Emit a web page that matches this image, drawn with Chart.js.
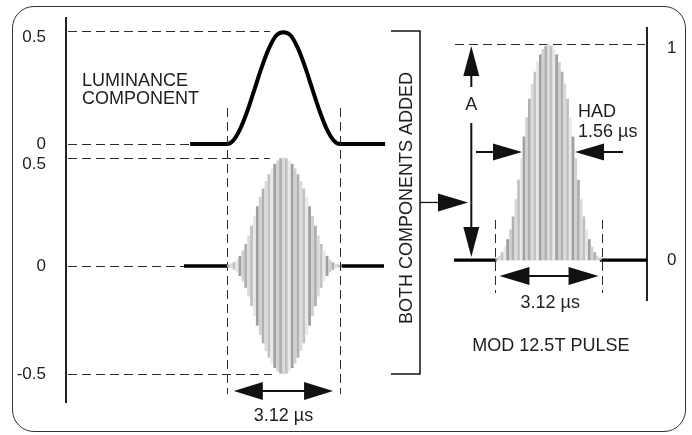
<!DOCTYPE html>
<html>
<head>
<meta charset="utf-8">
<script src="https://cdn.jsdelivr.net/npm/chart.js@4.4.1/dist/chart.umd.min.js"></script>
<style>
  html, body { margin: 0; padding: 0; background: #fff; }
  #wrap { position: relative; width: 692px; height: 435px; overflow: hidden; }
  #wrap canvas { position: absolute; left: 0; top: 0; }
  #frame { position: absolute; left: 12px; top: 6px; width: 672px; height: 424px;
           border: 1.5px solid #333; border-radius: 22px; }
</style>
</head>
<body>
<div id="wrap">
  <div id="frame"></div>
  <canvas id="lumChart" width="692" height="435"></canvas>
  <canvas id="chromaChart" width="692" height="435"></canvas>
  <canvas id="modChart" width="692" height="435"></canvas>
</div>
<script>
// tick labels
const lumTicks = [0, 0.5];
const chromaTicks = [-0.5, 0, 0.5];
const modTicks = [0, 1];

// luminance component (time in microseconds)
const lumTime  = [-2.57, -1.56, -1.4, -1.2, -1.0, -0.8, -0.6, -0.4, -0.2, 0, 0.2, 0.4, 0.6, 0.8, 1.0, 1.2, 1.4, 1.56, 2.8];
const lumValue = [0, 0, 0.013, 0.064, 0.144, 0.241, 0.339, 0.423, 0.48, 0.495, 0.48, 0.423, 0.339, 0.241, 0.144, 0.064, 0.013, 0, 0];

// chrominance component: carrier bursts under the envelope
const pulseTime = [-1.52, -1.44, -1.36, -1.28, -1.2, -1.12, -1.04, -0.96, -0.88, -0.8, -0.72, -0.64, -0.56, -0.48, -0.4, -0.32, -0.24, -0.16, -0.08,
                   0, 0.08, 0.16, 0.24, 0.32, 0.4, 0.48, 0.56, 0.64, 0.72, 0.8, 0.88, 0.96, 1.04, 1.12, 1.2, 1.28, 1.36, 1.44, 1.52];
const chromaAmp = [0.005, 0.009, 0.016, 0.028, 0.045, 0.07, 0.1, 0.14, 0.185, 0.23, 0.275, 0.318, 0.357, 0.392, 0.423, 0.45, 0.471, 0.487, 0.497,
                   0.5, 0.497, 0.487, 0.471, 0.45, 0.423, 0.392, 0.357, 0.318, 0.275, 0.23, 0.185, 0.14, 0.1, 0.07, 0.045, 0.028, 0.016, 0.009, 0.005];
const chromaBaseTime  = [-2.74, -1.52, 0, 1.6, 2.77];
const chromaBaseValue = [0, 0, null, 0, 0];

// both components added: mod 12.5T pulse
const modValue = [0.008, 0.018, 0.035, 0.06, 0.095, 0.14, 0.2, 0.28, 0.37, 0.47, 0.57, 0.66, 0.745, 0.815, 0.87, 0.915, 0.95, 0.975, 0.99,
                  1.0, 0.99, 0.975, 0.95, 0.915, 0.87, 0.815, 0.745, 0.66, 0.57, 0.47, 0.37, 0.28, 0.2, 0.14, 0.095, 0.06, 0.035, 0.018, 0.008];
const modBaseTime  = [-2.78, -1.53, 0, 1.51, 2.95];
const modBaseValue = [0, 0, null, 0, 0];

const FAMILY = '"Liberation Sans", Arial, Helvetica, sans-serif';
const INK = '#1e1e1e';
const STRIPES = ['#b0b0b0', '#dadada', '#c2c2c2', '#e8e8e8', '#a0a0a0', '#d0d0d0'];
const charts = {};

function pts(xs, ys) {
    return xs.map((x, i) => ({x: x, y: ys[i]}));
}

// crisp 1px dashed line
function dashed(ctx, x1, y1, x2, y2) {
    const px = v => Math.round(v) + 0.5;
    ctx.save();
    ctx.strokeStyle = '#2a2a2a';
    ctx.lineWidth = 1;
    ctx.setLineDash([9, 5]);
    ctx.beginPath();
    if (x1 === x2) {
        ctx.moveTo(px(x1), y1);
        ctx.lineTo(px(x2), y2);
    } else {
        ctx.moveTo(x1, px(y1));
        ctx.lineTo(x2, px(y2));
    }
    ctx.stroke();
    ctx.restore();
}

function solid(ctx, x1, y1, x2, y2, w) {
    ctx.save();
    ctx.strokeStyle = '#111';
    ctx.lineWidth = w;
    ctx.beginPath();
    ctx.moveTo(x1, y1);
    ctx.lineTo(x2, y2);
    ctx.stroke();
    ctx.restore();
}

// filled arrow head, (dx, dy) is the pointing direction
function head(ctx, tx, ty, dx, dy, len, half) {
    const bx = tx - dx * len, by = ty - dy * len;
    ctx.save();
    ctx.fillStyle = '#111';
    ctx.beginPath();
    ctx.moveTo(tx, ty);
    ctx.lineTo(bx - dy * half, by + dx * half);
    ctx.lineTo(bx + dy * half, by - dx * half);
    ctx.closePath();
    ctx.fill();
    ctx.restore();
}

function text(ctx, str, x, y, align) {
    ctx.save();
    ctx.fillStyle = INK;
    ctx.font = '18px ' + FAMILY;
    ctx.textAlign = align || 'left';
    ctx.textBaseline = 'alphabetic';
    ctx.fillText(str, x, y);
    ctx.restore();
}

function valueAxis(position, min, max, values, width, lineHeight, shifted) {
    return {
        type: 'linear', position: position, min: min, max: max,
        afterBuildTicks: s => { s.ticks = values.map(v => ({value: v})); },
        afterFit: s => { s.width = width; s.paddingTop = 0; s.paddingBottom = 0; },
        grid: {display: false, drawTicks: false},
        border: {display: true, color: '#222', width: 2},
        ticks: {
            autoSkip: false, padding: 20, color: INK,
            font: {family: FAMILY, size: 17, lineHeight: lineHeight},
            callback: v => v === shifted ? ['', String(v)] : String(v)
        }
    };
}

function baseOptions(padding, xmin, xmax, yAxis) {
    return {
        responsive: false, animation: false, events: [],
        layout: {autoPadding: false, padding: padding},
        plugins: {legend: {display: false}, tooltip: {enabled: false}},
        scales: {
            x: {type: 'linear', min: xmin, max: xmax, offset: false, display: false},
            y: yAxis
        }
    };
}

const lumNotes = {
    id: 'lumNotes',
    beforeDatasetsDraw(chart) {
        const {ctx, chartArea: a, scales: {x, y}} = chart;
        dashed(ctx, a.left + 2, y.getPixelForValue(0.5), x.getPixelForValue(-0.37), y.getPixelForValue(0.5));
        dashed(ctx, a.left + 2, y.getPixelForValue(0), x.getPixelForValue(-2.57), y.getPixelForValue(0));
    },
    afterDraw(chart) {
        const {ctx, chartArea: a} = chart;
        text(ctx, 'LUMINANCE', a.left + 16, 86);
        text(ctx, 'COMPONENT', a.left + 16, 103.5);
    }
};

const chromaNotes = {
    id: 'chromaNotes',
    beforeDatasetsDraw(chart) {
        const {ctx, chartArea: a, scales: {x, y}} = chart;
        dashed(ctx, a.left + 2, y.getPixelForValue(0.5), x.getPixelForValue(-0.37), y.getPixelForValue(0.5));
        dashed(ctx, a.left + 2, y.getPixelForValue(0), x.getPixelForValue(-2.74), y.getPixelForValue(0));
        dashed(ctx, a.left + 2, y.getPixelForValue(-0.5), x.getPixelForValue(-0.32), y.getPixelForValue(-0.5));
        [-1.56, 1.56].forEach(t => {
            const px = x.getPixelForValue(t);
            dashed(ctx, px, 108, px, 394);
        });
    },
    afterDraw(chart) {
        const {ctx, scales: {x, y}} = chart;
        // 3.12 us width arrow
        const l = x.getPixelForValue(-1.56) + 7, r = x.getPixelForValue(1.56) - 7, ay = 391;
        solid(ctx, l + 20, ay, r - 20, ay, 2);
        head(ctx, l, ay, -1, 0, 29, 9);
        head(ctx, r, ay, 1, 0, 29, 9);
        text(ctx, '3.12 \u00b5s', x.getPixelForValue(0), 421, 'center');

        // bracket joining both components
        const top = charts.lum.scales.y.getPixelForValue(0.5);
        const bottom = y.getPixelForValue(-0.5);
        const bx = 420;
        ctx.save();
        ctx.strokeStyle = '#111';
        ctx.lineWidth = 1.5;
        ctx.beginPath();
        ctx.moveTo(391, top);
        ctx.lineTo(bx, top);
        ctx.lineTo(bx, bottom);
        ctx.lineTo(391, bottom);
        ctx.stroke();
        ctx.restore();
        const mid = (top + bottom) / 2;
        solid(ctx, bx, mid, 445, mid, 1.3);
        head(ctx, 468, mid, 1, 0, 30, 9);

        ctx.save();
        ctx.translate(411.5, 198);
        ctx.rotate(-Math.PI / 2);
        text(ctx, 'BOTH COMPONENTS ADDED', 0, 0, 'center');
        ctx.restore();
    }
};

const modNotes = {
    id: 'modNotes',
    beforeDatasetsDraw(chart) {
        const {ctx, chartArea: a, scales: {x, y}} = chart;
        dashed(ctx, a.left + 3, y.getPixelForValue(1), a.right - 2, y.getPixelForValue(1));
        [-1.56, 1.56].forEach(t => {
            const px = x.getPixelForValue(t);
            dashed(ctx, px, 220, px, 293);
        });
    },
    afterDraw(chart) {
        const {ctx, scales: {x, y}} = chart;
        // amplitude A
        const ax = x.getPixelForValue(-2.27);
        const y1 = y.getPixelForValue(1) + 2, y0 = y.getPixelForValue(0) - 3;
        head(ctx, ax, y1, 0, -1, 30, 8);
        solid(ctx, ax, y1 + 28, ax, 87, 2);
        text(ctx, 'A', ax, 110, 'center');
        solid(ctx, ax, 123, ax, y0 - 28, 2);
        head(ctx, ax, y0, 0, 1, 30, 8);

        // half amplitude duration
        const hy = y.getPixelForValue(0.5);
        const hl = x.getPixelForValue(-0.78), hr = x.getPixelForValue(0.78);
        solid(ctx, hl - 46, hy, hl - 26, hy, 2);
        head(ctx, hl, hy, 1, 0, 29, 8.5);
        solid(ctx, hr + 26, hy, hr + 48, hy, 2);
        head(ctx, hr, hy, -1, 0, 29, 8.5);
        text(ctx, 'HAD', 578, 116.5);
        text(ctx, '1.56 \u00b5s', 578, 136.5);

        // base width
        const by = 276;
        const bl = x.getPixelForValue(-1.56) + 4, br = x.getPixelForValue(1.56) - 3;
        solid(ctx, bl + 20, by, br - 20, by, 2);
        head(ctx, bl, by, -1, 0, 30, 9);
        head(ctx, br, by, 1, 0, 30, 9);
        text(ctx, '3.12 \u00b5s', x.getPixelForValue(0.05), 308, 'center');
        text(ctx, 'MOD 12.5T PULSE', x.getPixelForValue(0.07), 350.5, 'center');
    }
};

charts.lum = new Chart(document.getElementById('lumChart'), {
    type: 'line',
    data: {
        datasets: [{
            data: pts(lumTime, lumValue),
            borderColor: '#000', borderWidth: 4, pointRadius: 0,
            cubicInterpolationMode: 'monotone'
        }]
    },
    options: baseOptions({left: 0, top: 18, right: 300, bottom: 285}, -5.99, 2.99,
        valueAxis('left', -0.0265, 0.5575, lumTicks, 66, 0.75, 0.5)),
    plugins: [lumNotes]
});

charts.chroma = new Chart(document.getElementById('chromaChart'), {
    type: 'bar',
    data: {
        datasets: [{
            type: 'bar',
            data: pulseTime.map((t, i) => ({x: t, y: [-chromaAmp[i], chromaAmp[i]]})),
            backgroundColor: STRIPES, barThickness: 2.2, borderWidth: 0
        }, {
            type: 'line',
            data: pts(chromaBaseTime, chromaBaseValue),
            borderColor: '#000', borderWidth: 3.5, pointRadius: 0, spanGaps: false
        }]
    },
    options: baseOptions({left: 0, top: 150, right: 300, bottom: 33}, -5.99, 2.99,
        valueAxis('left', -0.63, 0.537, chromaTicks, 66, 0.75, 0.5)),
    plugins: [chromaNotes]
});

charts.mod = new Chart(document.getElementById('modChart'), {
    type: 'bar',
    data: {
        datasets: [{
            type: 'bar',
            data: pts(pulseTime, modValue),
            backgroundColor: STRIPES, barThickness: 2.2, borderWidth: 0
        }, {
            type: 'line',
            data: pts(modBaseTime, modBaseValue),
            borderColor: '#000', borderWidth: 3.2, pointRadius: 0, spanGaps: false
        }]
    },
    options: baseOptions({left: 452, top: 28, right: 0, bottom: 135}, -2.838, 2.897,
        valueAxis('right', -0.185, 1.074, modTicks, 45, 0.47, 1)),
    plugins: [modNotes]
});
</script>
</body>
</html>
